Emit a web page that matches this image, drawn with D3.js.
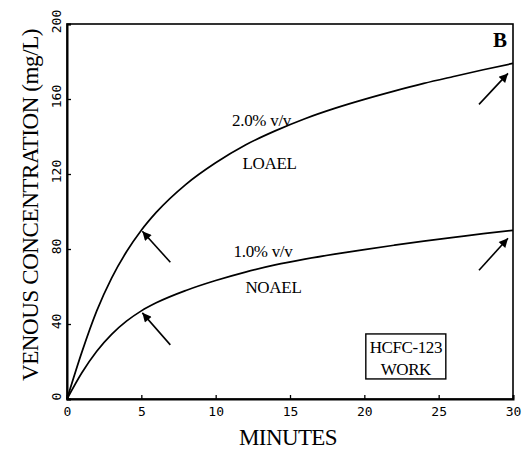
<!DOCTYPE html>
<html lang="en">
<head>
<meta charset="UTF-8">
<title>HCFC-123 venous concentration</title>
<script src="https://d3js.org/d3.v7.min.js"></script>
<style>
    body { margin: 0; background: #fff; }
    svg { display: block; }
    .serif { font-family: "Liberation Serif", "Times New Roman", serif; fill: #000; }
    .tick-label { font-family: "DejaVu Sans Mono", monospace; font-size: 13px; fill: #000; }
</style>
</head>
<body>
<div id="chart"></div>
<script>
    // data
    const minutes = [0, 1, 2, 3, 4, 5, 6, 8, 10, 12, 14, 16, 18, 20, 22, 24, 26, 28, 30];
    const loael   = [0, 25, 47, 64.5, 78.5, 90, 99.5, 114.5, 126, 135.5, 143, 149.5, 155, 159.8, 164.2, 168.3, 172, 175.6, 179];
    const noael   = [0, 14, 25.5, 34.5, 41.5, 47, 51.3, 57.9, 63.2, 67.7, 71.5, 74.6, 77.3, 79.7, 82, 84.2, 86.2, 88.2, 90];
    const xTicks = [0, 5, 10, 15, 20, 25, 30];
    const yTicks = [0, 40, 80, 120, 160, 200];

    // curve labels (minute, value where the text starts)
    const labels = [
        {text: "2.0% v/v", t: 11.1, v: 145.5},
        {text: "LOAEL",    t: 11.8, v: 122.5},
        {text: "1.0% v/v", t: 11.2, v: 76},
        {text: "NOAEL",    t: 12.0, v: 56.5}
    ];
    // arrows pointing at the curves
    const arrows = [
        {series: "loael", t: 5,  tip: [1, 1],  tail: [29, 32]},
        {series: "noael", t: 5,  tip: [1, 2],  tail: [29, 34]},
        {series: "loael", t: 30, tip: [-5, 10], tail: [-34, 41]},
        {series: "noael", t: 30, tip: [-5, 8],  tail: [-34, 40]}
    ];

    const W = 532, H = 454;
    const margin = {top: 24, right: 19, bottom: 55, left: 67};
    const width = W - margin.left - margin.right;
    const height = H - margin.top - margin.bottom;

    const svg = d3.select("#chart").append("svg")
        .attr("width", W).attr("height", H);

    const defs = svg.append("defs");
    defs.append("marker")
        .attr("id", "head")
        .attr("viewBox", "0 0 10 10")
        .attr("refX", 10).attr("refY", 5)
        .attr("markerUnits", "userSpaceOnUse")
        .attr("markerWidth", 12).attr("markerHeight", 9)
        .attr("orient", "auto")
        .append("path").attr("d", "M0,0L10,5L0,10Z").attr("fill", "#000");

    const g = svg.append("g").attr("transform", `translate(${margin.left},${margin.top})`);

    const x = d3.scaleLinear().domain([0, 30]).range([0, width]);
    const y = d3.scaleLinear().domain([0, 200]).range([height, 0]);

    // frame
    g.append("rect")
        .attr("width", width).attr("height", height)
        .attr("fill", "none").attr("stroke", "#000").attr("stroke-width", 1.6);

    // x axis
    const xAxis = g.append("g").attr("transform", `translate(0,${height})`)
        .call(d3.axisBottom(x).tickValues(xTicks).tickSize(-4).tickPadding(8));
    xAxis.select(".domain").attr("stroke-width", 2);
    xAxis.selectAll(".tick line").attr("stroke-width", 1.3);
    xAxis.selectAll("text").attr("class", "tick-label").attr("font-size", null).attr("font-family", null);

    // y axis, labels turned sideways
    const yAxis = g.append("g")
        .call(d3.axisLeft(y).tickValues(yTicks).tickSize(-4).tickFormat(""));
    yAxis.select(".domain").attr("stroke-width", 2);
    yAxis.selectAll(".tick line").attr("stroke-width", 1.3);
    yAxis.selectAll(".tick").append("text")
        .attr("class", "tick-label")
        .attr("transform", "translate(-6,-3) rotate(-90)")
        .attr("text-anchor", "middle")
        .text(d => d);

    // curves
    const line = d3.line()
        .x((d, i) => x(minutes[i]))
        .y(d => y(d))
        .curve(d3.curveMonotoneX);
    const series = {loael, noael};
    Object.values(series).forEach(vals => {
        g.append("path")
            .datum(vals)
            .attr("fill", "none")
            .attr("stroke", "#000")
            .attr("stroke-width", 1.7)
            .attr("d", line);
    });

    // arrows
    arrows.forEach(a => {
        const i = minutes.indexOf(a.t);
        const px = x(a.t), py = y(series[a.series][i]);
        g.append("line")
            .attr("x1", px + a.tail[0]).attr("y1", py + a.tail[1])
            .attr("x2", px + a.tip[0]).attr("y2", py + a.tip[1])
            .attr("stroke", "#000").attr("stroke-width", 1.6)
            .attr("marker-end", "url(#head)");
    });

    // curve labels
    g.selectAll(".curve-label")
        .data(labels)
        .join("text")
        .attr("class", "serif curve-label")
        .attr("x", d => x(d.t))
        .attr("y", d => y(d.v))
        .attr("font-size", 17)
        .attr("letter-spacing", -0.3)
        .text(d => d.text);

    // panel letter
    g.append("text")
        .attr("class", "serif")
        .attr("x", width - 6).attr("y", 23)
        .attr("text-anchor", "end")
        .attr("font-size", 21).attr("font-weight", "bold")
        .text("B");

    // HCFC-123 WORK box
    const box = g.append("g").attr("transform", `translate(${x(20.1)},${y(34.7)})`);
    box.append("rect")
        .attr("width", 80).attr("height", 45)
        .attr("fill", "#fff").attr("stroke", "#000").attr("stroke-width", 1.4);
    box.append("text").attr("class", "serif")
        .attr("x", 40).attr("y", 19).attr("text-anchor", "middle")
        .attr("font-size", 17).attr("letter-spacing", -0.4)
        .text("HCFC-123");
    box.append("text").attr("class", "serif")
        .attr("x", 40).attr("y", 41).attr("text-anchor", "middle")
        .attr("font-size", 17).attr("letter-spacing", -0.4)
        .text("WORK");

    // axis titles
    svg.append("text")
        .attr("class", "serif")
        .attr("x", margin.left + width / 2 - 2).attr("y", 445)
        .attr("text-anchor", "middle")
        .attr("font-size", 23).attr("letter-spacing", -0.6)
        .text("MINUTES");

    svg.append("text")
        .attr("class", "serif")
        .attr("transform", `translate(38,${205}) rotate(-90)`)
        .attr("text-anchor", "middle")
        .attr("font-size", 23).attr("letter-spacing", -0.4)
        .text("VENOUS CONCENTRATION (mg/L)");
</script>
</body>
</html>
